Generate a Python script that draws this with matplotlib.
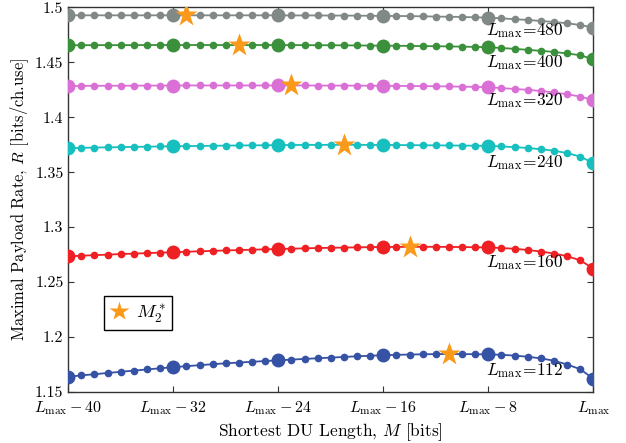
import numpy as np
import matplotlib
matplotlib.use("Agg")
import matplotlib.pyplot as plt

plt.rcParams['font.family'] = 'serif'
plt.rcParams['font.serif'] = ['cmr10']
plt.rcParams['mathtext.fontset'] = 'cm'
plt.rcParams['axes.formatter.use_mathtext'] = True

# offset from L_max, in bits
offsets = list(range(-40, 1))

rate_112 = [1.1639, 1.1651, 1.1662, 1.1673, 1.1684, 1.1695, 1.1705, 1.1716, 1.1726,
            1.1735, 1.1744, 1.1753, 1.1761, 1.1768, 1.1775, 1.1782, 1.1788,
            1.1795, 1.1801, 1.1807, 1.1813, 1.1819, 1.1825, 1.1830, 1.1835,
            1.1838, 1.1841, 1.1843, 1.1845, 1.1846, 1.1845, 1.1844, 1.1842,
            1.1839, 1.1831, 1.1821, 1.1806, 1.1785, 1.1750, 1.1708, 1.1620]
rate_160 = [1.2734, 1.2740, 1.2745, 1.2750, 1.2755, 1.2759, 1.2764, 1.2768, 1.2772,
            1.2776, 1.2780, 1.2784, 1.2788, 1.2791, 1.2795, 1.2798, 1.2801,
            1.2804, 1.2807, 1.2810, 1.2812, 1.2814, 1.2816, 1.2818, 1.2819,
            1.2820, 1.2821, 1.2821, 1.2821, 1.2820, 1.2819, 1.2817, 1.2815,
            1.2810, 1.2803, 1.2792, 1.2778, 1.2760, 1.2736, 1.2698, 1.2622]
rate_240 = [1.3718, 1.3721, 1.3724, 1.3726, 1.3728, 1.3730, 1.3732, 1.3734, 1.3736,
            1.3737, 1.3739, 1.3740, 1.3742, 1.3743, 1.3744, 1.3745, 1.3746,
            1.3747, 1.3748, 1.3748, 1.3749, 1.3749, 1.3749, 1.3748, 1.3748,
            1.3747, 1.3746, 1.3745, 1.3744, 1.3743, 1.3742, 1.3741, 1.3739,
            1.3734, 1.3728, 1.3720, 1.3709, 1.3695, 1.3674, 1.3642, 1.3582]
rate_320 = [1.4284, 1.4285, 1.4286, 1.4286, 1.4287, 1.4287, 1.4288, 1.4288, 1.4288,
            1.4289, 1.4289, 1.4289, 1.4289, 1.4289, 1.4289, 1.4289, 1.4289,
            1.4289, 1.4289, 1.4288, 1.4288, 1.4288, 1.4287, 1.4287, 1.4286,
            1.4285, 1.4284, 1.4283, 1.4282, 1.4280, 1.4278, 1.4276, 1.4273,
            1.4265, 1.4257, 1.4249, 1.4239, 1.4225, 1.4209, 1.4188, 1.4155]
rate_400 = [1.4655, 1.4655, 1.4656, 1.4656, 1.4656, 1.4656, 1.4657, 1.4657, 1.4657,
            1.4657, 1.4657, 1.4657, 1.4657, 1.4657, 1.4657, 1.4657, 1.4656,
            1.4656, 1.4656, 1.4655, 1.4655, 1.4654, 1.4653, 1.4652, 1.4651,
            1.4650, 1.4649, 1.4647, 1.4646, 1.4644, 1.4642, 1.4640, 1.4637,
            1.4630, 1.4622, 1.4613, 1.4604, 1.4594, 1.4580, 1.4564, 1.4527]
rate_480 = [1.4927, 1.4927, 1.4927, 1.4927, 1.4927, 1.4927, 1.4927, 1.4927, 1.4927,
            1.4927, 1.4927, 1.4927, 1.4927, 1.4927, 1.4927, 1.4927, 1.4927,
            1.4926, 1.4926, 1.4926, 1.4925, 1.4925, 1.4924, 1.4923, 1.4922,
            1.4921, 1.4920, 1.4918, 1.4916, 1.4914, 1.4912, 1.4909, 1.4906,
            1.4900, 1.4892, 1.4885, 1.4876, 1.4866, 1.4855, 1.4839, 1.4815]

l_max = [112, 160, 240, 320, 400, 480]
rates = [rate_112, rate_160, rate_240, rate_320, rate_400, rate_480]
colors = ['#3652a5', '#ee2024', '#17bfbf', '#da70d6', '#3b903b', '#808985']
# optimal M_2^* offsets for each L_max
star_offsets = [-11, -14, -19, -23, -27, -31]
label_y = [1.1694, 1.2679, 1.3590, 1.4148, 1.4500, 1.4790]

xtick_pos = [-40, -32, -24, -16, -8, 0]
xtick_labels = [r'$L_{\max}-40$', r'$L_{\max}-32$', r'$L_{\max}-24$',
                r'$L_{\max}-16$', r'$L_{\max}-8$', r'$L_{\max}$']
yticks = [1.15, 1.2, 1.25, 1.3, 1.35, 1.4, 1.45, 1.5]

fig = plt.figure(figsize=(6.26, 4.43), dpi=100)
ax = fig.add_axes([0.1090, 0.1151, 0.8389, 0.8684])

x = np.array(offsets)
for L, r, c, s, ly in zip(l_max, rates, colors, star_offsets, label_y):
    r = np.array(r)
    ax.plot(x, r, '-o', color=c, lw=1.3, ms=4.5, zorder=2)
    big = (x % 8 == 0)
    ax.plot(x[big], r[big], 'o', color=c, ms=9, zorder=3)
    ax.plot(s, r[x == s][0], '*', color='#fb9a1a', ms=17, mec='none', zorder=4)
    ax.text(-8.2, ly, r'$L_{\max}\!=\!%d$' % L, fontsize=12.5, ha='left', va='center', zorder=5)

ax.plot([], [], '*', color='#fb9a1a', ms=15, mec='none', label=r'$M_2^*$')
leg = ax.legend(loc='lower left', bbox_to_anchor=(0.068, 0.16), fontsize=13.5,
                fancybox=False, framealpha=1, edgecolor='black', borderaxespad=0,
                handlelength=1.0, handletextpad=0.4, borderpad=0.3)
leg.get_frame().set_linewidth(1.0)

ax.set_xlim(-40, 0)
ax.set_ylim(1.15, 1.5)
ax.set_xticks(xtick_pos)
ax.set_xticklabels(xtick_labels)
ax.set_yticks(yticks)
ax.set_yticklabels(['1.15', '1.2', '1.25', '1.3', '1.35', '1.4', '1.45', '1.5'])
ax.tick_params(direction='in', top=True, right=True, length=4, labelsize=11.5,
               color='#333333')
ax.tick_params(axis='x', pad=5)
for sp in ax.spines.values():
    sp.set_color('#333333')
    sp.set_linewidth(1.0)
ax.set_xlabel(r'Shortest DU Length, $M$ [bits]', fontsize=12.5, labelpad=3)
ax.set_ylabel(r'Maximal Payload Rate, $R$ [bits/ch.use]', fontsize=11.9, labelpad=3)

fig.savefig('out.png', dpi=100)
